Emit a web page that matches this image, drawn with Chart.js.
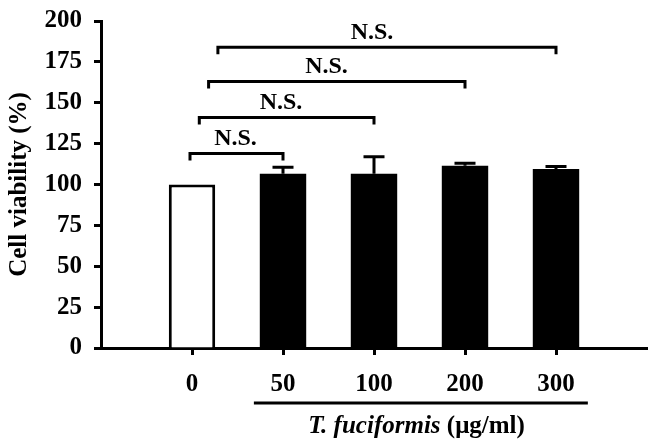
<!DOCTYPE html>
<html>
<head>
<meta charset="utf-8">
<script src="https://cdn.jsdelivr.net/npm/chart.js@4/dist/chart.umd.min.js"></script>
<style>
  html, body { margin: 0; padding: 0; background: #fff; }
</style>
</head>
<body>
<canvas id="c" width="657" height="446"></canvas>
<script>
// ── Data ─────────────────────────────────────────────────────────────────────
// empty slots at each end give the axis its blank margins
const doses = ["", "0", "50", "100", "200", "300", ""];
const viability = [null, 100, 106.5, 106.5, 111.5, 109.5, null];
const viabilitySd = [null, 0, 4, 10.5, 1.5, 1.5, null];
const yTicks = [0, 25, 50, 75, 100, 125, 150, 175, 200];

const compFrom = ["0", "0", "0", "0"];
const compTo = ["50", "100", "200", "300"];
const compHeight = [119, 141, 163, 184];
const compLabel = ["N.S.", "N.S.", "N.S.", "N.S."];

const FONT = "'Liberation Serif', 'Times New Roman', serif";
const FS = 25;

// ── Overlay: error bars, significance brackets, x title ──────────────────────
const overlay = {
  id: "overlay",
  afterDatasetsDraw(chart) {
    const { ctx } = chart;
    const x = chart.scales.x;
    const y = chart.scales.y;
    const step = x.getPixelForValue(1) - x.getPixelForValue(0);
    ctx.save();
    ctx.strokeStyle = "#000";
    ctx.lineWidth = 3;
    ctx.lineCap = "butt";

    // error bars (upper only)
    viability.forEach((v, i) => {
      const e = viabilitySd[i];
      if (v == null || !e) return;
      const px = x.getPixelForValue(i);
      const top = y.getPixelForValue(v + e);
      ctx.beginPath();
      ctx.moveTo(px, y.getPixelForValue(v));
      ctx.lineTo(px, top);
      ctx.moveTo(px - 10.5, top);
      ctx.lineTo(px + 10.5, top);
      ctx.stroke();
    });

    // brackets, each one starting a bit further right
    ctx.fillStyle = "#000";
    ctx.font = `bold ${FS - 1}px ${FONT}`;
    ctx.textAlign = "center";
    ctx.textBaseline = "alphabetic";
    compTo.forEach((to, i) => {
      const a = x.getPixelForValue(doses.indexOf(compFrom[i]));
      const b = x.getPixelForValue(doses.indexOf(to));
      const x0 = a - 2 + i * 9.3;
      const yy = y.getPixelForValue(compHeight[i]);
      ctx.beginPath();
      ctx.moveTo(x0, yy + 7);
      ctx.lineTo(x0, yy);
      ctx.lineTo(b, yy);
      ctx.lineTo(b, yy + 7);
      ctx.stroke();
      ctx.fillText(compLabel[i], (a + b) / 2 - 2, yy - 8);
    });

    // underline + x title (italic species name, upright unit)
    const l = x.getPixelForValue(2) - 0.32 * step;
    const r = x.getPixelForValue(5) + 0.35 * step;
    ctx.beginPath();
    ctx.moveTo(l, 403);
    ctx.lineTo(r, 403);
    ctx.stroke();

    const part1 = "T. fuciformis";
    const part2 = " (\u03bcg/ml)";
    ctx.font = `italic bold ${FS}px ${FONT}`;
    const w1 = ctx.measureText(part1).width;
    ctx.font = `bold ${FS}px ${FONT}`;
    const w2 = ctx.measureText(part2).width;
    const cx = (x.getPixelForValue(2) + x.getPixelForValue(5)) / 2 - 3;
    const sx = cx - (w1 + w2) / 2;
    ctx.textAlign = "left";
    ctx.font = `italic bold ${FS}px ${FONT}`;
    ctx.fillText(part1, sx, 433);
    ctx.font = `bold ${FS}px ${FONT}`;
    ctx.fillText(part2, sx + w1, 433);
    ctx.restore();
  },
};

// ── Chart ────────────────────────────────────────────────────────────────────
new Chart(document.getElementById("c"), {
  type: "bar",
  data: {
    labels: doses,
    datasets: [
      {
        data: viability,
        backgroundColor: doses.map((d) => (d === "0" ? "#fff" : "#000")),
        borderColor: "#000",
        borderWidth: doses.map((d) => (d === "0" ? 3 : 0)),
        barPercentage: 0.51,
        categoryPercentage: 1,
      },
    ],
  },
  options: {
    responsive: false,
    animation: false,
    layout: { padding: { top: 21, right: 10, left: 0, bottom: 0 } },
    plugins: {
      legend: { display: false },
      tooltip: { enabled: false },
    },
    scales: {
      x: {
        offset: false,
        border: { color: "#000", width: 3 },
        grid: {
          offset: false,
          drawOnChartArea: false,
          drawTicks: true,
          tickLength: 7,
          tickWidth: 3,
          tickColor: (c) => (c.tick && c.tick.label === "" ? "rgba(0,0,0,0)" : "#000"),
        },
        ticks: {
          color: "#000",
          padding: 15,
          maxRotation: 0,
          autoSkip: false,
          font: { family: FONT, size: FS, weight: "bold" },
        },
        afterFit: (s) => {
          s.height = 98;
          s.paddingLeft = 0;
          s.paddingRight = 0;
        },
      },
      y: {
        min: 0,
        max: 200,
        border: { color: "#000", width: 3 },
        grid: {
          drawOnChartArea: false,
          drawTicks: true,
          tickLength: 7,
          tickWidth: 3,
          tickColor: "#000",
        },
        afterBuildTicks: (s) => { s.ticks = yTicks.map((v) => ({ value: v })); },
        ticks: {
          color: "#000",
          padding: 12,
          font: { family: FONT, size: FS, weight: "bold", lineHeight: 0.6 },
        },
        title: {
          display: true,
          text: "Cell viability (%)",
          color: "#000",
          padding: { top: 5, bottom: 0 },
          font: { family: FONT, size: FS, weight: "bold" },
        },
        afterFit: (s) => { s.width = 101; },
      },
    },
  },
  plugins: [overlay],
});
</script>
</body>
</html>
